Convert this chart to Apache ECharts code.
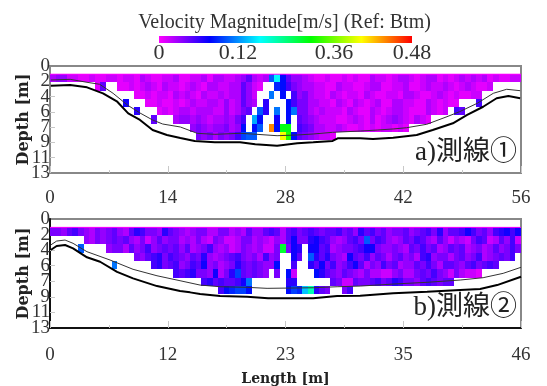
<!DOCTYPE html>
<html>
<head>
<meta charset="utf-8">
<title>Velocity Magnitude</title>
<style>
    html, body { margin: 0; padding: 0; background: #fff; }
    #chart { width: 547px; height: 386px; }
</style>
<script src="https://cdn.jsdelivr.net/npm/echarts@6/dist/echarts.min.js"></script>
</head>
<body>
<div id="chart"></div>
<script>
const _ = null;

const barTitle = 'Velocity Magnitude[m/s] (Ref: Btm)';
const barLabels = ['0', '0.12', '0.36', '0.48'];
const barColors = ['#ff00ff', '#0000ff', '#00ffff', '#00ff00', '#ffff00', '#ff0000'];
const depthEnds = [0, 13];
const columnCount = 84;

// velocity in cm/s, one array per 1 m depth bin starting at 1 m
const rowsA = [
    [3, 4, 4, 2, 2, 1, 1, 2, 1, 1, 2, 2, 1, 2, 2, 1, 3, 2, 1, 1, 2, 2, 3, 1, 1, 2, 2, 3, 1, 3, 3, 2, 2, 3, 4, 6, 3, 2, 3, 13, 19, 10, 6, 4, 4, 3, 2, 1, 1, 2, 1, 1, 2, 1, 2, 1, 1, 3, 2, 2, 1, 2, 3, 3, 2, 1, 2, 3, 3, 1, 2, 1, 2, 3, 2, 3, 2, 3, 1, 2, 1, 1, 2, 2],
    [_, _, _, _, _, _, _, _, 1, 6, _, _, 1, 1, 2, 1, 2, 3, 2, 1, 3, 2, 2, 1, 2, 3, 2, 1, 3, 3, 2, 2, 3, 3, 6, 4, 2, 1, _, _, 11, 10, 7, 5, 4, 3, 3, 2, 2, 1, 1, 3, 2, 2, 1, 1, 2, 3, 3, 1, 1, 2, 2, 3, 1, 1, 2, 3, 2, 2, 3, 2, 1, 2, 3, 2, 1, 1, 2, _, _, _, _, _],
    [_, _, _, _, _, _, _, _, _, _, _, _, _, _, _, 1, 1, 2, 1, 2, 2, 1, 3, 2, 3, 2, 1, 3, 2, 2, 3, 2, 3, 3, 6, 4, 2, _, _, 14, _, 10, _, 7, 4, 5, 3, 2, 2, 1, 3, 2, 1, 2, 2, 1, 3, 2, 1, 1, 2, 2, 1, 3, 3, 2, 1, 1, 2, 3, 2, 1, 2, 1, 1, 2, 2, _, _, _, _, _, _, _],
    [_, _, _, _, _, _, _, _, _, _, _, _, _, 9, _, _, _, 1, 1, 2, 1, 1, 2, 1, 2, 3, 2, 2, 3, 3, 2, 4, 2, 3, 6, 4, 3, _, 8, _, _, _, 10, 7, 5, 5, 3, 3, 2, 2, 1, 3, 2, 1, 3, 2, 1, 2, 3, 1, 1, 3, 3, 2, 2, 1, 1, 3, 2, 1, 2, 1, 1, _, _, _, 7, _, _, _, _, _, _, _],
    [_, _, _, _, _, _, _, _, _, _, _, _, _, _, _, 8, _, _, _, 1, 2, 1, 2, 3, 3, 2, 3, 3, 3, 2, 2, 4, 2, 3, 5, 6, _, 13, 8, _, 14, _, 10, 14, 5, 5, 3, 2, 3, 2, 2, 2, 1, 3, 2, 1, 1, 3, 2, 1, 2, 3, 3, 2, 1, 1, 1, 3, 2, 1, 2, _, 7, 6, _, _, _, _, _, _, _, _, _, _],
    [_, _, _, _, _, _, _, _, _, _, _, _, _, _, _, _, _, _, 6, _, _, _, 3, 4, 4, 3, 4, 3, 2, 3, 3, 4, 3, 5, 7, _, 16, 10, _, _, 9, _, 10, _, 6, 5, 4, 3, 2, 2, 2, 1, 1, 2, 3, 2, 1, 3, 1, 2, 3, 4, 3, 2, 1, 3, 2, 1, _, _, _, _, _, _, _, _, _, _, _, _, _, _, _, _],
    [_, _, _, _, _, _, _, _, _, _, _, _, _, _, _, _, _, _, _, _, _, _, _, _, _, 4, 5, 4, 3, 4, 4, 5, 3, 4, 10, _, 10, 13, _, 43, 10, 28, 28, _, 7, 6, 5, 3, 3, 2, 2, 3, 2, 1, 1, 2, 1, 2, 1, 2, 2, 1, 2, 1, _, _, _, _, _, _, _, _, _, _, _, _, _, _, _, _, _, _, _, _],
    [_, _, _, _, _, _, _, _, _, _, _, _, _, _, _, _, _, _, _, _, _, _, _, _, _, _, 5, 4, 5, 3, 5, 4, 5, 7, 12, 13, 13, _, _, _, _, 38, 30, 10, 6, 5, 4, 3, 2, 2, 1, _, _, _, _, _, _, _, _, _, _, _, _, _, _, _, _, _, _, _, _, _, _, _, _, _, _, _, _, _, _, _, _, _]
];
const rowsB = [
    [5, 5, 4, 6, 7, 5, 4, 3, 5, 4, 5, 6, 4, 3, 6, 8, 7, 5, 5, 4, 8, 6, 5, 4, 3, 4, 5, 5, 3, 3, 5, 5, 3, 4, 3, 6, 4, 4, 6, 7, 6, 3, 6, 7, 5, 6, 7, 6, 5, 6, 6, 7, 5, 6, 4, 8, 6, 7, 5, 6, 4, 5, 5, 6, 4, 5, 6, 7, 5, 8, 4, 6, 6, 7, 9, 7, 5, 6, 4, 7, 8, 9, 7, 9],
    [_, _, _, _, _, _, 4, 3, 5, 4, 5, 6, 5, 6, 4, 3, 5, 2, 4, 6, 4, 5, 5, 3, 4, 3, 5, 3, 2, 5, 4, 2, 2, 3, 5, 5, 3, 4, 3, 2, 4, 3, 6, 9, 5, 5, 8, 9, 7, 6, 4, 3, 4, 6, 7, 5, 13, 5, 7, 6, 4, 3, 4, 6, 5, 7, 6, 4, 3, 6, 4, 2, 4, 3, 2, 5, 7, 6, 2, 3, 6, 4, 7, 2],
    [_, _, _, _, _, 13, _, _, _, _, 4, 5, 5, 3, 6, 4, 5, 7, 4, 5, 6, 5, 6, 4, 6, 3, 4, 5, 7, 4, 3, 4, 2, 3, 5, 4, 3, 4, 2, 2, 5, 27, 5, 9, 8, _, 9, 9, 6, 7, 3, 4, 5, 5, 6, 7, 9, 9, 5, 4, 4, 5, 4, 3, 6, 5, 7, 5, 6, 3, 4, 6, 5, 6, 3, 4, 5, 3, 4, 6, 4, 5, 7, 5],
    [_, _, _, _, _, _, _, _, _, _, _, _, _, _, _, 5, 4, 6, 7, 8, 5, 7, 6, 5, 4, 6, 5, 8, 4, 3, 4, 5, 6, 7, 5, 4, 5, 3, 7, 4, 5, _, _, 9, 6, _, 13, 8, 6, 8, 5, 4, 3, 9, 6, 5, 7, 4, 6, 5, 3, 5, 6, 4, 5, 3, 7, 8, 4, 5, 5, 3, 5, 6, 4, 5, 7, 3, 4, 5, 6, 5, 7, _],
    [_, _, _, _, _, _, _, _, _, _, _, 14, _, _, _, _, _, _, 7, 8, 5, 6, 7, 4, 5, 7, 6, 9, 4, 5, 3, 4, 5, 8, 6, 5, 6, 5, 4, 4, 10, _, _, 7, _, _, 8, 6, 9, 5, 7, 4, 5, 7, 9, 6, 3, 5, 4, 7, 5, 6, 3, 4, 4, 6, 5, 7, 5, 3, 6, 6, 5, 4, 6, 7, 5, 6, 7, 6, _, _, _, _],
    [_, _, _, _, _, _, _, _, _, _, _, _, _, _, _, _, _, _, _, _, _, _, 7, 6, 7, 8, 5, 5, 4, 9, 3, 5, 8, 12, 6, 5, 6, 5, 4, _, 5, _, 10, 2, _, _, _, 10, 8, 6, 5, 4, 6, 5, 4, 3, 5, 3, 3, 2, 2, 4, 5, 3, 3, 5, 6, 5, 7, 5, 4, 2, 5, 3, 2, 2, 1, _, _, _, _, _, _, _],
    [_, _, _, _, _, _, _, _, _, _, _, _, _, _, _, _, _, _, _, _, _, _, _, _, _, _, _, 7, 8, 6, 7, 6, 6, 7, 9, 14, _, _, _, _, _, _, 8, 8, _, _, _, _, _, _, 6, 5, 2, 2, 6, 5, 5, 6, 7, 5, 6, 8, 7, 5, 5, 4, 6, 7, 6, 5, 6, 6, _, _, _, _, _, _, _, _, _, _, _, _],
    [_, _, _, _, _, _, _, _, _, _, _, _, _, _, _, _, _, _, _, _, _, _, _, _, _, _, _, _, _, _, 7, 10, 11, 12, 12, 10, _, _, _, _, _, _, 10, 12, 11, 17, 22, 8, 6, 5, _, _, 5, 7, _, _, _, _, _, _, _, _, _, _, _, _, _, _, _, _, _, _, _, _, _, _, _, _, _, _, _, _, _, _]
];

const bedXA = [0.1, 2.4, 4.4, 6.3, 8, 9.3, 10.7, 12.2, 13.9, 15.5, 17.2, 19.6, 22.6, 24.4, 27, 29.4, 31.3, 33.6, 34.2, 36.9, 38.4, 40.8, 43.6, 45.5, 47.9, 49.6, 51.5, 53.1, 54.5, 55.9];
const bedDepthA = [2.39, 2.31, 2.59, 3.32, 4.34, 5.75, 6.56, 7.78, 8.38, 8.75, 9.11, 9.27, 9.27, 9.51, 9.68, 9.39, 9.27, 9.11, 8.78, 8.78, 8.87, 8.71, 8.38, 7.78, 6.96, 5.95, 4.95, 3.92, 3.65, 3.92];
const thinXA = [0.1, 2.4, 4.4, 5.9, 7.5, 9.2, 10.7, 12.2, 13.4, 15.5, 17.5, 19.6, 22.6, 24.6, 27, 29.4, 31.3, 33.6, 36.9, 38.9, 40.8, 42.4, 44.8, 47.2, 48.7, 50.8, 52.7, 54.3, 55.9];
const thinDepthA = [1.7, 1.62, 1.98, 2.22, 3.32, 4.74, 5.71, 6.56, 7.05, 7.41, 8.18, 8.3, 8.18, 8.3, 8.47, 8.38, 8.26, 8.06, 7.9, 7.78, 7.65, 7.5, 7.08, 6.16, 5.55, 4.53, 3.32, 2.83, 3];

const bedXB = [0.07, 0.65, 1.47, 2.25, 3.61, 4.89, 6.55, 8.11, 10.45, 12.7, 13.68, 14.66, 16.61, 19.25, 21.3, 25.7, 28.04, 30.29, 33.51, 36.83, 40.06, 42.01, 43.67, 46];
const bedDepthB = [3.7, 3.22, 3.1, 3.5, 4.57, 5.1, 6.3, 7.08, 8, 8.59, 8.75, 8.95, 9.19, 9.27, 9.46, 9.46, 9.19, 9.15, 8.87, 8.68, 8.47, 8.35, 7.88, 6.89];
const thinXB = [0.07, 0.65, 1.47, 2.25, 3.61, 5.86, 8.11, 10.45, 12.7, 14.66, 16.61, 19.25, 21.2, 25.7, 28.04, 30.29, 33.51, 36.83, 40.06, 42.3, 44.26, 46];
const thinDepthB = [3.1, 2.63, 2.51, 2.9, 3.9, 4.89, 6, 6.77, 7.36, 7.88, 8.08, 8.15, 8.27, 8.2, 8.08, 8, 7.76, 7.55, 7.28, 7, 6.48, 5.76];

const surfaceXA = [0, 56];
const surfaceXB = [0, 46];
const surfaceDepth = [1, 1];

const serifFont = '"Liberation Serif", serif';
const boldFont = '"DejaVu Serif", serif';
const labelFont = '"Liberation Serif", "Noto Sans CJK JP", serif';

function toCells(rows, length) {
    const cellWidth = length / columnCount;
    const cells = [];
    rows.forEach((row, rowIndex) => {
        row.forEach((value, columnIndex) => {
            if (value !== null) {
                cells.push([columnIndex * cellWidth, rowIndex + 1, value / 100, cellWidth]);
            }
        });
    });
    return cells;
}

function renderCell(parameters, api) {
    const start = api.coord([api.value(0), api.value(1)]);
    const end = api.coord([api.value(0) + api.value(3), api.value(1) + 1]);
    // snap to whole pixels, otherwise seams show between neighbouring cells
    const left = Math.round(start[0]);
    const top = Math.round(start[1]);
    return {
        type: 'rect',
        shape: {
            x: left,
            y: top,
            width: Math.round(end[0]) - left,
            height: Math.round(end[1]) - top
        },
        style: { fill: api.visual('color') }
    };
}

function cellSeries(rows, length, index) {
    return {
        type: 'custom',
        xAxisIndex: index,
        yAxisIndex: index,
        renderItem: renderCell,
        encode: { x: 0, y: 1 },
        data: toCells(rows, length),
        z: 2,
        silent: true
    };
}

function lineSeries(xs, depths, index, color, width) {
    return {
        type: 'line',
        xAxisIndex: index,
        yAxisIndex: index,
        data: xs.map((x, pointIndex) => [x, depths[pointIndex]]),
        showSymbol: false,
        lineStyle: { color, width },
        z: 4,
        silent: true
    };
}

function xAxisFor(length, interval, index, color, margin) {
    return {
        type: 'value',
        gridIndex: index,
        min: 0,
        max: length,
        interval,
        axisLine: { onZero: false, lineStyle: { color, width: 2 } },
        axisTick: { inside: true, length: 7, lineStyle: { color: '#c8c8c8', width: 1 } },
        minorTick: { show: true, splitNumber: 2, length: 3, lineStyle: { color: '#c8c8c8' } },
        splitLine: { show: false },
        axisLabel: {
            color: '#333',
            fontFamily: serifFont,
            fontSize: 19,
            margin,
            formatter: (value) => Math.round(value).toString()
        }
    };
}

function yAxisFor(index, color) {
    return {
        type: 'value',
        gridIndex: index,
        inverse: true,
        min: 0,
        max: 13,
        interval: 13 / 7,
        name: 'Depth [m]',
        nameLocation: 'middle',
        nameGap: 18,
        nameMoveOverlap: false,
        nameTextStyle: { color: '#222', fontFamily: boldFont, fontWeight: 'bold', fontSize: 16 },
        axisLine: { onZero: false, lineStyle: { color, width: 2 } },
        axisTick: { inside: true, length: 5, lineStyle: { color: '#c8c8c8', width: 1 } },
        splitLine: { show: false },
        axisLabel: {
            color: '#333',
            fontFamily: serifFont,
            fontSize: 19,
            margin: 0,
            showMinLabel: false,
            showMaxLabel: false,
            formatter: (value) => Math.round(value).toString()
        }
    };
}

// 0 and 13 sit on their own axis, on the main one they knock out the 2 and the 11
function depthEndAxisFor(index) {
    return {
        type: 'value',
        gridIndex: index,
        position: 'left',
        inverse: true,
        min: 0,
        max: 13,
        axisLine: { show: false },
        axisTick: { show: false },
        splitLine: { show: false },
        axisLabel: {
            color: '#333',
            fontFamily: serifFont,
            fontSize: 19,
            margin: 0,
            customValues: depthEnds
        }
    };
}

const barLabelX = [159, 238, 334, 412];
const chart = echarts.init(document.querySelector('#chart'));
chart.setOption({
    animation: false,
    backgroundColor: '#fff',
    grid: [
        { left: 50, top: 66, width: 471, height: 107, show: true, borderColor: '#888', borderWidth: 2, outerBoundsMode: 'none' },
        { left: 50, top: 219, width: 471, height: 109, show: true, borderColor: '#888', borderWidth: 2, outerBoundsMode: 'none' }
    ],
    xAxis: [
        xAxisFor(56, 14, 0, '#888', 16),
        {
            ...xAxisFor(46, 11.5, 1, '#111', 18),
            name: 'Length [m]',
            nameLocation: 'middle',
            nameGap: 44,
            nameTextStyle: { color: '#222', fontFamily: boldFont, fontWeight: 'bold', fontSize: 14 }
        }
    ],
    yAxis: [yAxisFor(0, '#888'), yAxisFor(1, '#111'), depthEndAxisFor(0), depthEndAxisFor(1)],
    visualMap: {
        show: false,
        type: 'continuous',
        min: 0,
        max: 0.48,
        dimension: 2,
        seriesIndex: [0, 3],
        inRange: { color: barColors }
    },
    series: [
        cellSeries(rowsA, 56, 0),
        lineSeries(thinXA, thinDepthA, 0, '#333', 1),
        lineSeries(bedXA, bedDepthA, 0, '#000', 2),
        cellSeries(rowsB, 46, 1),
        lineSeries(thinXB, thinDepthB, 1, '#333', 1),
        lineSeries(bedXB, bedDepthB, 1, '#000', 2),
        lineSeries(surfaceXA, surfaceDepth, 0, '#ff00ff', 1),
        lineSeries(surfaceXB, surfaceDepth, 1, '#ff00ff', 1)
    ],
    graphic: [
        {
            type: 'rect',
            shape: { x: 159, y: 36, width: 253, height: 7 },
            style: {
                fill: new echarts.graphic.LinearGradient(0, 0, 1, 0, barColors.map((color, index) => ({
                    offset: index / (barColors.length - 1),
                    color
                })))
            }
        },
        {
            type: 'text',
            x: 284.5,
            y: 23,
            style: { text: barTitle, fontFamily: serifFont, fontSize: 20, fill: '#333', align: 'center', verticalAlign: 'middle' }
        },
        ...barLabels.map((label, index) => ({
            type: 'text',
            x: barLabelX[index],
            y: 53,
            style: { text: label, fontFamily: serifFont, fontSize: 22, fill: '#333', align: 'center', verticalAlign: 'middle' }
        })),
        {
            type: 'text',
            x: 517,
            y: 153,
            z: 10,
            style: { text: 'a)測線①', fontFamily: labelFont, fontSize: 27, fill: '#222', align: 'right', verticalAlign: 'middle' }
        },
        {
            type: 'text',
            x: 517,
            y: 308,
            z: 10,
            style: { text: 'b)測線②', fontFamily: labelFont, fontSize: 27, fill: '#222', align: 'right', verticalAlign: 'middle' }
        }
    ]
});
</script>
</body>
</html>
